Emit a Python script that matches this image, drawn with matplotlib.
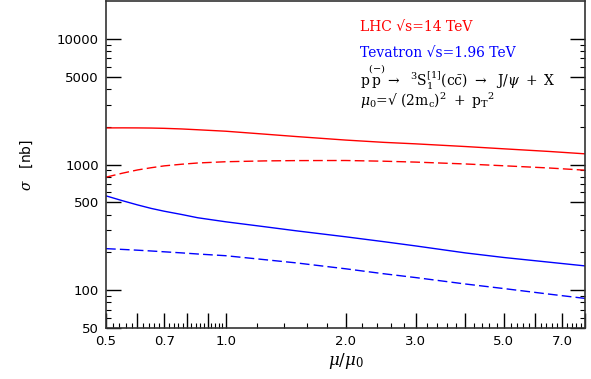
import matplotlib
matplotlib.use("Agg")
import matplotlib.pyplot as plt
from matplotlib.ticker import FixedLocator, FixedFormatter, NullFormatter

plt.rcParams['mathtext.fontset'] = 'dejavuserif'

# scale ratio mu/mu0
mu = [0.5, 0.55, 0.6, 0.65, 0.7, 0.775, 0.85, 1.0, 1.25, 1.5, 2.0, 2.5, 3.0, 4.0, 5.0, 6.5, 8.0]

# cross sections in nb
lhc_solid = [1955, 1957, 1955, 1950, 1940, 1918, 1890, 1840, 1745, 1670, 1565, 1500, 1460, 1390, 1333, 1270, 1216]
lhc_dash = [793, 853, 905, 943, 975, 1005, 1028, 1052, 1068, 1074, 1076, 1062, 1045, 1010, 977, 938, 901]
tev_solid = [563, 515, 477, 447, 425, 400, 377, 350, 320, 297, 266, 243, 225, 198, 182, 167, 156]
tev_dash = [214, 211, 208, 205, 202, 198, 194, 188, 175, 165, 148, 135, 126, 112, 103, 93, 86]

x_major = [0.5, 0.6, 0.7, 0.8, 0.9, 1.0, 2.0, 3.0, 4.0, 5.0, 6.0, 7.0, 8.0]
x_labels = ['0.5', '', '0.7', '', '', '1.0', '2.0', '3.0', '', '5.0', '', '7.0', '']
x_minor = [0.52, 0.54, 0.56, 0.58, 0.62, 0.64, 0.66, 0.68, 0.72, 0.74, 0.76, 0.78,
           0.82, 0.84, 0.86, 0.88, 0.92, 0.94, 0.96, 0.98,
           1.2, 1.4, 1.6, 1.8, 2.2, 2.4, 2.6, 2.8, 3.2, 3.4, 3.6, 3.8,
           4.2, 4.4, 4.6, 4.8, 5.2, 5.4, 5.6, 5.8, 6.2, 6.4, 6.6, 6.8,
           7.2, 7.4, 7.6, 7.8]
y_major = [50, 100, 500, 1000, 5000, 10000]
y_labels = ['50', '100', '500', '1000', '5000', '10000']
y_minor = [60, 70, 80, 90, 200, 300, 400, 600, 700, 800, 900,
           2000, 3000, 4000, 6000, 7000, 8000, 9000]

fig = plt.figure(figsize=(5.91, 3.79), dpi=100)
ax = fig.add_axes([106/591, 1 - 328/379, 479/591, 327/379])

ax.plot(mu, lhc_solid, color='red', lw=1)
ax.plot(mu, lhc_dash, color='red', lw=1, dashes=(7, 3))
ax.plot(mu, tev_solid, color='blue', lw=1)
ax.plot(mu, tev_dash, color='blue', lw=1, dashes=(7, 3))

ax.set_xscale('log')
ax.set_yscale('log')
ax.set_xlim(0.5, 8.0)
ax.set_ylim(50, 20000)

ax.xaxis.set_major_locator(FixedLocator(x_major))
ax.xaxis.set_major_formatter(FixedFormatter(x_labels))
ax.xaxis.set_minor_locator(FixedLocator(x_minor))
ax.xaxis.set_minor_formatter(NullFormatter())
ax.yaxis.set_major_locator(FixedLocator(y_major))
ax.yaxis.set_major_formatter(FixedFormatter(y_labels))
ax.yaxis.set_minor_locator(FixedLocator(y_minor))
ax.yaxis.set_minor_formatter(NullFormatter())

ax.tick_params(which='major', direction='in', length=11, width=1, labelsize=9.5,
               right=True, top=False, pad=5)
ax.tick_params(which='minor', direction='in', length=3.6, width=0.8,
               right=True, top=False)
for s in ax.spines.values():
    s.set_linewidth(1.2)
    s.set_color('#333333')

ax.set_xlabel(r'$\mu/\mu_0$', fontsize=12, labelpad=2)
ax.set_ylabel(r'$\sigma$   [nb]', fontsize=10, labelpad=16)

tx = 0.53
ax.text(tx, 0.92, 'LHC √s=14 TeV', transform=ax.transAxes, color='red',
        fontsize=10, family='DejaVu Serif', va='center')
ax.text(tx, 0.84, 'Tevatron √s=1.96 TeV', transform=ax.transAxes, color='blue',
        fontsize=10, family='DejaVu Serif', va='center')
ax.text(tx, 0.765,
        r'$\mathrm{p}\overset{(-)}{\mathrm{p}}\rightarrow\ \ {}^3\mathrm{S}_1^{[1]}(\mathrm{c}\bar{\mathrm{c}})\ \rightarrow\ \ \mathrm{J}/\psi\ +\ \mathrm{X}$',
        transform=ax.transAxes, color='black', fontsize=10, va='center')
ax.text(tx, 0.695,
        r'$\mu_0$=√ $(2\mathrm{m_c})^2\ +\ \mathrm{p_T}^2$',
        transform=ax.transAxes, color='black', fontsize=10, va='center',
        family='DejaVu Serif')

fig.savefig('out.png', dpi=100)
